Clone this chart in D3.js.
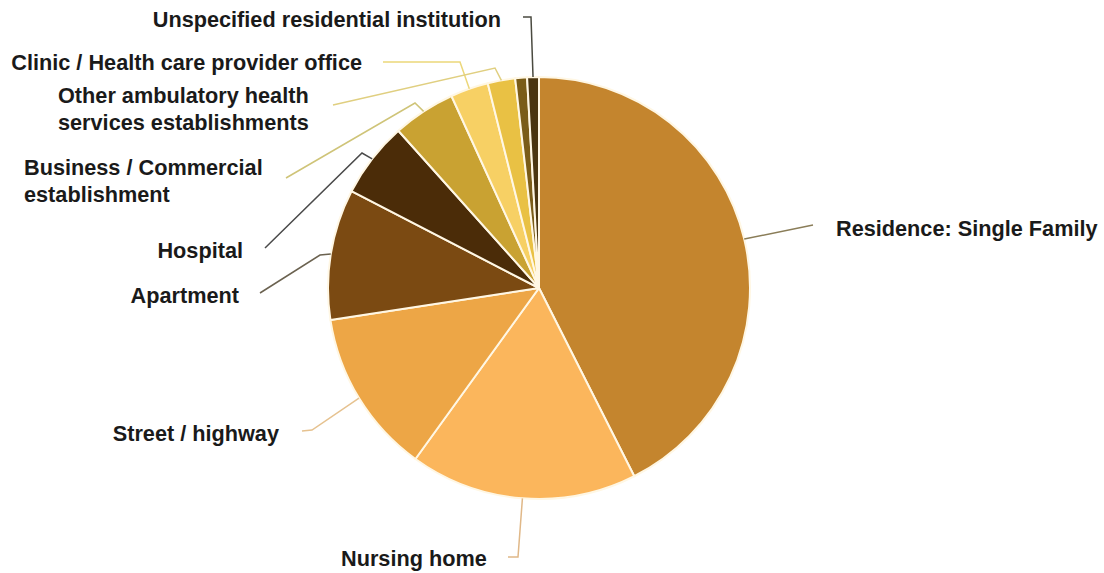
<!DOCTYPE html>
<html>
<head>
<meta charset="utf-8">
<script src="https://cdn.jsdelivr.net/npm/d3@7"></script>
<style>
  body { margin: 0; background: #fff; }
  svg { display: block; }
</style>
</head>
<body>
<svg id="chart" width="1104" height="573"></svg>
<script>
// data (percent of total)
const categories = [
  "Residence: Single Family",
  "Nursing home",
  "Street / highway",
  "Apartment",
  "Hospital",
  "Business / Commercial establishment",
  "Clinic / Health care provider office",
  "Other ambulatory health services establishments",
  "Other",
  "Unspecified residential institution"
];
const shares = [42.5, 17.4, 12.6, 10.0, 5.8, 4.8, 2.9, 2.1, 0.9, 0.9];
const colors = ["#c4852e", "#fbb65c", "#eda646", "#7b4a12", "#4b2c08",
                "#c9a232", "#f7d064", "#e9c144", "#7a5c18", "#4a3510"];
const lineColors = ["#8a7d58", "#e0b888", "#e6c290", "#6b6250", "#4a4a4a",
                    "#cfc478", "#ecd77a", "#e0cf80", null, "#4a4a40"];

// label layout: text lines, text anchor, leader elbow + end
const labelLayout = [
  { lines: ["Residence: Single Family"], x: 836, y: 236, anchor: "start", elbow: null, end: [813, 225] },
  { lines: ["Nursing home"], x: 341, y: 566, anchor: "start", elbow: [518, 557], end: [508, 557] },
  { lines: ["Street / highway"], x: 279, y: 441, anchor: "end", elbow: [312, 430], end: [302, 431] },
  { lines: ["Apartment"], x: 239, y: 303, anchor: "end", elbow: [320, 255], end: [260, 293] },
  { lines: ["Hospital"], x: 243, y: 258, anchor: "end", elbow: [362, 153], end: [265, 248] },
  { lines: ["Business / Commercial", "establishment"], x: 24, y: 175, anchor: "start", elbow: [415, 103], end: [286, 178] },
  { lines: ["Clinic / Health care provider office"], x: 362, y: 70, anchor: "end", elbow: [460, 62], end: [383, 62] },
  { lines: ["Other ambulatory health", "services establishments"], x: 58, y: 103, anchor: "start", elbow: [495, 68], end: [333, 105] },
  null,
  { lines: ["Unspecified residential institution"], x: 501, y: 27, anchor: "end", elbow: [531, 17], end: [523, 17] }
];

const svg = d3.select("#chart");
const cx = 539, cy = 288, radius = 211;

const pie = d3.pie().sort(null).value(d => d);
const arcs = pie(shares);
const arc = d3.arc().innerRadius(0).outerRadius(radius);

const g = svg.append("g").attr("transform", `translate(${cx},${cy})`);

g.selectAll("path.slice")
  .data(arcs)
  .join("path")
  .attr("class", "slice")
  .attr("d", arc)
  .attr("fill", (d, i) => colors[i])
  .attr("stroke", "#fff7e4")
  .attr("stroke-width", 2)
  .attr("stroke-linejoin", "round");

// leader lines from outer edge midpoint of each slice
const line = d3.line();
arcs.forEach((d, i) => {
  const lay = labelLayout[i];
  if (!lay) return;
  const mid = (d.startAngle + d.endAngle) / 2;
  const start = [cx + radius * Math.sin(mid), cy - radius * Math.cos(mid)];
  const pts = [start];
  if (lay.elbow) pts.push(lay.elbow);
  pts.push(lay.end);
  svg.append("path")
    .attr("d", line(pts))
    .attr("fill", "none")
    .attr("stroke", lineColors[i])
    .attr("stroke-width", 1.5);
});

// labels
labelLayout.forEach((lay, i) => {
  if (!lay) return;
  const t = svg.append("text")
    .attr("x", lay.x)
    .attr("y", lay.y)
    .attr("text-anchor", lay.anchor)
    .attr("font-family", "'Liberation Sans', Arial, sans-serif")
    .attr("font-weight", "bold")
    .attr("font-size", "21.7px")
    .attr("fill", "#1a1a1a");
  lay.lines.forEach((s, j) => {
    t.append("tspan")
      .attr("x", lay.x)
      .attr("dy", j === 0 ? 0 : 26.5)
      .text(s);
  });
});
</script>
</body>
</html>
